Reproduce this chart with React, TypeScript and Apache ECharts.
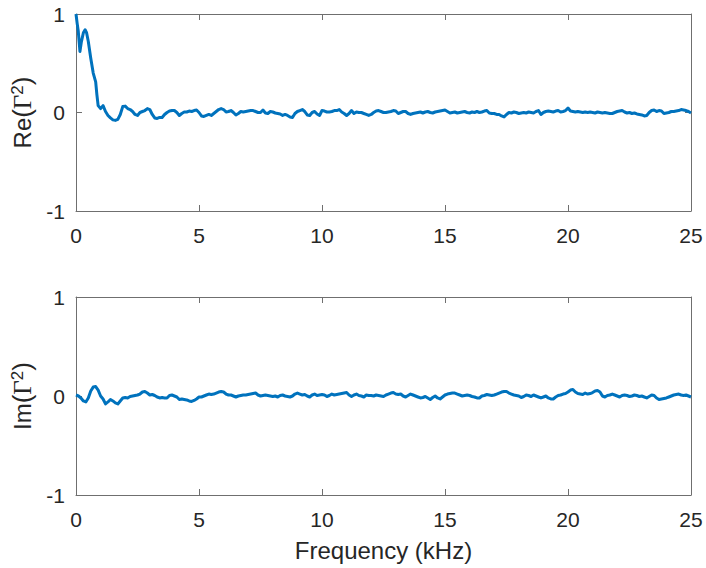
import React, { useEffect, useRef } from "react";
import * as echarts from "echarts";

// Frequency axis ticks (kHz)
const freqTicks = [0, 5, 10, 15, 20, 25];
const freqStep = 0.1;

// Re(Γ²): fine samples of the low band, 0 – 1 kHz
const reLowBand: [number, number][] = [
  [0, 1.0], [0.05, 0.9], [0.09, 0.83], [0.16, 0.62], [0.22, 0.72],
  [0.3, 0.81], [0.37, 0.84], [0.43, 0.81], [0.5, 0.72], [0.6, 0.55],
  [0.7, 0.4], [0.8, 0.31], [0.85, 0.18], [0.9, 0.07], [1.0, 0.04],
];

// Re(Γ²) on a 0.1 kHz grid, 1.1 – 25.0 kHz
const reValues = [
  0.07, 0.01, -0.03, -0.055, -0.075, -0.08, -0.07, -0.02, 0.06,
  0.065, 0.04, 0.03, 0.01, -0.02, -0.03, 0.0, 0.01, 0.02, 0.04,
  0.03, -0.02, -0.055, -0.06, -0.05, -0.05, -0.02, 0.0, 0.015, 0.02,
  0.02, 0.0, -0.03, -0.01, 0.005, 0.005, 0.015, 0.01, 0.02, 0.025,
  0.0, -0.035, -0.04, -0.03, -0.02, -0.03, -0.01, 0.01, 0.03, 0.04,
  0.03, 0.005, 0.01, 0.02, 0.0, -0.025, -0.01, 0.01, 0.005, 0.01,
  0.015, 0.02, 0.02, 0.01, 0.0, 0.0, 0.025, -0.005, -0.01, 0.01,
  0.005, -0.005, -0.01, -0.015, -0.03, -0.02, -0.03, -0.045, -0.05, -0.01,
  0.01, 0.02, 0.03, 0.01, -0.025, -0.03, 0.0, 0.01, -0.015, -0.03,
  0.02, 0.015, 0.005, 0.005, 0.01, 0.02, 0.02, 0.03, 0.005, -0.01,
  -0.03, -0.01, 0.02, -0.01, 0.005, 0.0, 0.0, -0.01, -0.02, -0.03,
  -0.02, 0.0, 0.015, 0.02, 0.01, 0.0, 0.0, 0.005, 0.01, 0.02,
  0.015, -0.01, 0.0, 0.01, 0.01, -0.01, -0.02, -0.01, -0.005, 0.0,
  0.005, -0.005, 0.005, 0.01, 0.0, -0.005, 0.005, 0.01, 0.015, 0.02,
  0.025, 0.01, -0.005, 0.0, 0.005, -0.005, 0.0, 0.005, 0.01, 0.0,
  -0.005, 0.005, 0.0, 0.01, 0.0, 0.005, 0.015, 0.02, -0.005, -0.01,
  -0.01, -0.02, -0.02, -0.035, -0.045, -0.02, 0.0, -0.005, 0.005, 0.0,
  -0.01, -0.005, 0.0, -0.005, 0.005, 0.0, -0.005, 0.01, 0.02, -0.02,
  0.0, 0.01, 0.015, 0.01, 0.005, 0.015, 0.02, 0.005, 0.01, 0.02,
  0.045, 0.015, 0.01, 0.005, 0.01, 0.005, 0.0, 0.005, 0.0, 0.005,
  0.0, -0.005, 0.005, 0.0, -0.005, 0.0, -0.005, -0.01, -0.01, 0.0,
  0.01, 0.015, 0.02, 0.005, -0.005, 0.0, -0.01, -0.005, -0.015, -0.02,
  -0.025, -0.035, -0.03, 0.0, 0.02, 0.025, 0.01, 0.02, 0.015, -0.01,
  -0.005, 0.0, 0.01, 0.01, 0.015, 0.02, 0.03, 0.025, 0.02, 0.01,
  -0.005,
];
const reGridStart = 1.1;

// Im(Γ²) on a 0.1 kHz grid, 0 – 25.0 kHz
const imValues = [
  0.01, 0.0, -0.02, -0.05, -0.06, -0.02, 0.05, 0.09, 0.095, 0.06,
  0.0, -0.03, -0.08, -0.06, -0.035, -0.05, -0.07, -0.08, -0.05, -0.02,
  -0.015, -0.02, -0.005, 0.0, 0.005, 0.01, 0.02, 0.04, 0.045, 0.03,
  0.01, 0.015, 0.005, -0.01, -0.02, -0.015, -0.02, -0.02, 0.005, 0.01,
  0.0, -0.01, -0.035, -0.03, -0.035, -0.04, -0.05, -0.055, -0.045, -0.03,
  -0.01, -0.01, 0.0, 0.01, 0.02, 0.015, 0.02, 0.03, 0.04, 0.045,
  0.04, 0.02, 0.01, 0.01, 0.0, -0.01, 0.0, 0.005, 0.01, 0.01,
  0.015, 0.02, 0.025, 0.03, 0.01, 0.0, 0.005, 0.01, 0.005, 0.0,
  -0.005, 0.0, -0.01, 0.005, 0.01, 0.0, -0.005, -0.01, 0.0, 0.02,
  0.03, 0.02, 0.01, 0.015, 0.0, -0.01, 0.01, 0.02, 0.005, 0.01,
  0.015, 0.01, -0.005, 0.005, 0.02, 0.01, 0.015, 0.02, 0.025, 0.03,
  0.035, 0.01, -0.005, 0.01, 0.02, 0.005, 0.0, -0.01, 0.01, 0.005,
  0.005, 0.0, 0.01, 0.005, 0.0, -0.005, 0.01, 0.02, 0.03, 0.035,
  0.02, 0.015, 0.02, 0.0, -0.01, 0.005, 0.02, 0.01, 0.0, -0.01,
  -0.02, -0.015, -0.005, -0.02, -0.035, -0.015, 0.0, -0.02, -0.03, -0.01,
  0.01, 0.02, 0.025, 0.03, 0.03, 0.02, 0.01, 0.0, 0.005, 0.01,
  0.005, -0.005, -0.01, -0.02, -0.02, 0.0, 0.005, 0.015, 0.01, 0.005,
  0.01, 0.02, 0.03, 0.04, 0.045, 0.045, 0.03, 0.02, 0.01, 0.005,
  0.0, -0.015, -0.005, 0.01, 0.005, -0.005, 0.01, 0.0, -0.01, -0.02,
  -0.01, 0.0, -0.02, -0.03, -0.03, -0.01, 0.005, 0.01, 0.02, 0.025,
  0.04, 0.06, 0.065, 0.04, 0.025, 0.02, 0.015, 0.03, 0.02, 0.025,
  0.035, 0.05, 0.055, 0.04, 0.0, -0.01, 0.005, 0.01, 0.02, 0.01,
  0.0, -0.01, 0.005, 0.01, 0.005, -0.005, 0.0, 0.01, 0.005, -0.005,
  0.0, -0.01, -0.02, -0.005, 0.01, 0.005, -0.02, -0.035, -0.03, -0.025,
  -0.02, -0.01, 0.0, 0.01, 0.015, 0.02, 0.01, 0.005, 0.01, 0.0,
  -0.01,
];

const LINE_COLOR = "#0072BD";
const TEXT_COLOR = "#262626";
const BOX_COLOR = "#6f6f6f";
const SANS = "'Liberation Sans', Arial, Helvetica, sans-serif";
const SERIF = "'Liberation Serif', 'Times New Roman', serif";

const onGrid = (start: number, values: number[]): [number, number][] =>
  values.map((v, i) => [Number((start + i * freqStep).toFixed(2)), v]);

const reData: [number, number][] = [...reLowBand, ...onGrid(reGridStart, reValues)];
const imData: [number, number][] = onGrid(0, imValues);

const axisName = (prefix: string) => `{n|${prefix}}{p|(}{g|Γ}{s|2}{p|)}`;

const nameRich = {
  n: { fontFamily: SANS, fontSize: 24, color: TEXT_COLOR },
  p: { fontFamily: SANS, fontSize: 26, color: TEXT_COLOR },
  g: { fontFamily: SERIF, fontSize: 25, color: TEXT_COLOR },
  s: { fontFamily: SANS, fontSize: 17, color: TEXT_COLOR, verticalAlign: "top" as const },
};

const xAxisPair = (gridIndex: number, withName: boolean) => {
  const common = {
    type: "value" as const,
    gridIndex,
    min: freqTicks[0],
    max: freqTicks[freqTicks.length - 1],
    interval: 5,
    axisLine: { show: true, onZero: false, lineStyle: { color: BOX_COLOR, width: 1 } },
    axisTick: { show: true, inside: true, length: 6, lineStyle: { color: BOX_COLOR } },
    splitLine: { show: false },
  };
  return [
    {
      ...common,
      position: "bottom" as const,
      axisLabel: { show: true, fontFamily: SANS, fontSize: 21, color: TEXT_COLOR, margin: 14 },
      name: withName ? "Frequency (kHz)" : "",
      nameLocation: "middle" as const,
      nameGap: 43,
      nameTextStyle: { fontFamily: SANS, fontSize: 24, color: TEXT_COLOR },
    },
    { ...common, position: "top" as const, axisLabel: { show: false } },
  ];
};

const yAxisPair = (gridIndex: number, prefix: string) => {
  const common = {
    type: "value" as const,
    gridIndex,
    min: -1,
    max: 1,
    interval: 1,
    axisLine: { show: true, onZero: false, lineStyle: { color: BOX_COLOR, width: 1 } },
    axisTick: { show: true, inside: true, length: 6, lineStyle: { color: BOX_COLOR } },
    splitLine: { show: false },
  };
  return [
    {
      ...common,
      position: "left" as const,
      axisLabel: { show: true, fontFamily: SANS, fontSize: 21, color: TEXT_COLOR, margin: 11 },
      name: axisName(prefix),
      nameLocation: "middle" as const,
      nameRotate: 90,
      nameGap: 31,
      nameTextStyle: { rich: nameRich },
    },
    { ...common, position: "right" as const, axisLabel: { show: false } },
  ];
};

export default function App() {
  const ref = useRef<HTMLDivElement>(null);

  useEffect(() => {
    if (!ref.current) return;
    const chart = echarts.init(ref.current, undefined, { renderer: "svg" });
    chart.setOption({
      animation: false,
      backgroundColor: "#ffffff",
      grid: [
        { left: 76, top: 14, width: 615, height: 197 },
        { left: 76, top: 297, width: 615, height: 198 },
      ],
      xAxis: [...xAxisPair(0, false), ...xAxisPair(1, true)],
      yAxis: [...yAxisPair(0, "Re"), ...yAxisPair(1, "Im")],
      series: [
        {
          type: "line",
          xAxisIndex: 0,
          yAxisIndex: 0,
          data: reData,
          showSymbol: false,
          symbol: "none",
          lineStyle: { color: LINE_COLOR, width: 3, join: "round" },
        },
        {
          type: "line",
          xAxisIndex: 2,
          yAxisIndex: 2,
          data: imData,
          showSymbol: false,
          symbol: "none",
          lineStyle: { color: LINE_COLOR, width: 3, join: "round" },
        },
      ],
    });
    return () => chart.dispose();
  }, []);

  return (
    <div
      ref={ref}
      style={{ position: "absolute", left: 0, top: 0, width: 706, height: 568 }}
    />
  );
}
